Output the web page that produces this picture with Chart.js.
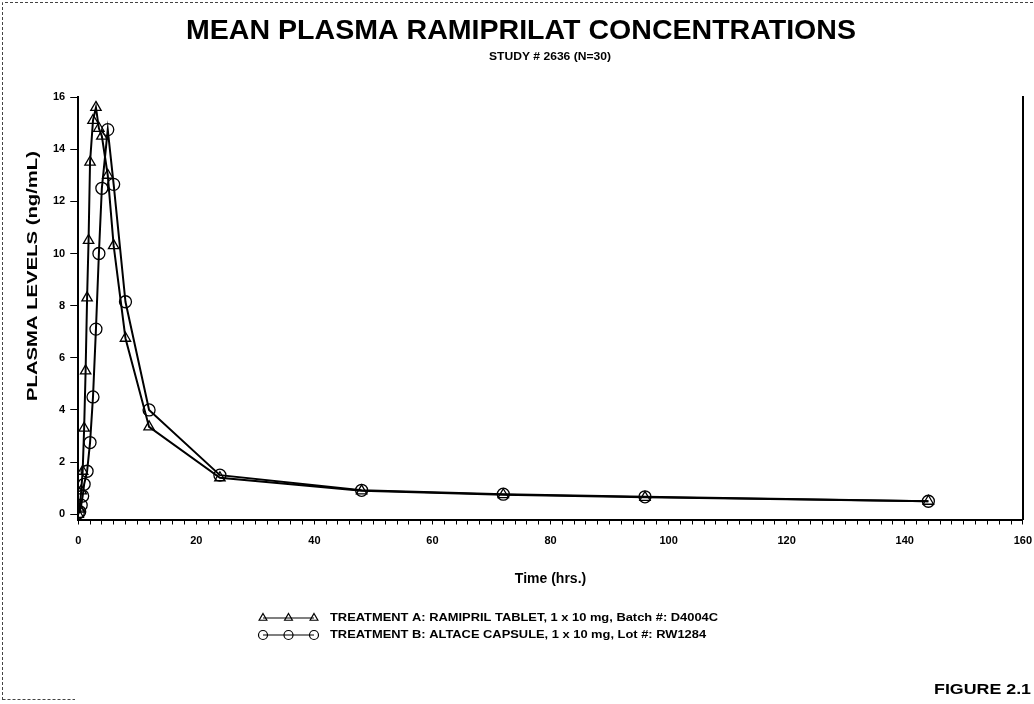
<!DOCTYPE html>
<html>
<head>
<meta charset="utf-8">
<title>Mean Plasma Ramiprilat Concentrations</title>
<script src="https://cdn.jsdelivr.net/npm/chart.js@4.4.1/dist/chart.umd.min.js"></script>
<style>
    html, body { margin: 0; padding: 0; background: #fff; }
    #wrap { width: 1034px; height: 704px; }
</style>
</head>
<body>
<div id="wrap"><canvas id="plasmaChart" width="1034" height="704"></canvas></div>
<script>
// sampling times (hrs) and mean levels (ng/mL)
const timeA = [0, 0.25, 0.5, 0.75, 1, 1.25, 1.5, 1.75, 2, 2.5, 3, 3.5, 4, 5, 6, 8, 12, 24, 48, 72, 96, 144];
const levelA = [0, 0.2, 0.9, 1.65, 3.3, 5.5, 8.3, 10.5, 13.5, 15.1, 15.6, 14.8, 14.5, 13.0, 10.3, 6.75, 3.35, 1.4, 0.9, 0.75, 0.65, 0.5];

const timeB = [0, 0.25, 0.5, 0.75, 1, 1.5, 2, 2.5, 3, 3.5, 4, 5, 6, 8, 12, 24, 48, 72, 96, 144];
const levelB = [0.05, 0.1, 0.35, 0.7, 1.15, 1.65, 2.75, 4.5, 7.1, 10.0, 12.5, 14.75, 12.65, 8.15, 4.0, 1.5, 0.92, 0.77, 0.67, 0.5];

const xTicks = [0, 20, 40, 60, 80, 100, 120, 140, 160];
const yTicks = [0, 2, 4, 6, 8, 10, 12, 14, 16];

const legendA = 'TREATMENT A: RAMIPRIL TABLET, 1 x 10 mg, Batch #: D4004C';
const legendB = 'TREATMENT B: ALTACE CAPSULE, 1 x 10 mg, Lot #: RW1284';

const FONT = "'Liberation Sans', Arial, Helvetica, sans-serif";
Chart.defaults.font.family = FONT;
Chart.defaults.color = '#000';

function toPoints(xs, ys) {
    return xs.map((x, i) => ({ x: x, y: ys[i] }));
}

// the scanned lettering is wider than Arial, so stretch text to a width
function stretchText(ctx, text, x, y, width, align) {
    const k = width / ctx.measureText(text).width;
    ctx.save();
    ctx.translate(x, y);
    ctx.scale(k, 1);
    ctx.textAlign = align;
    ctx.fillText(text, 0, 0);
    ctx.restore();
}

// titles, legend rows, figure number and the scan border
const extrasPlugin = {
    id: 'extras',
    afterDraw(chart) {
        const ctx = chart.ctx;
        ctx.save();

        // dashed page edge left by the scanner
        ctx.strokeStyle = '#444';
        ctx.lineWidth = 1;
        ctx.setLineDash([3, 2]);
        ctx.beginPath();
        ctx.moveTo(2.5, 700);
        ctx.lineTo(2.5, 2.5);
        ctx.lineTo(1034, 2.5);
        ctx.moveTo(2.5, 699.5);
        ctx.lineTo(75, 699.5);
        ctx.stroke();
        ctx.setLineDash([]);

        ctx.fillStyle = '#000';
        ctx.textBaseline = 'middle';

        ctx.font = 'bold 28px ' + FONT;
        stretchText(ctx, 'MEAN PLASMA RAMIPRILAT CONCENTRATIONS', 521, 31, 670, 'center');

        ctx.font = 'bold 11px ' + FONT;
        stretchText(ctx, 'STUDY # 2636 (N=30)', 550, 57, 122, 'center');

        ctx.save();
        ctx.translate(33, 276);
        ctx.rotate(-Math.PI / 2);
        ctx.font = 'bold 15px ' + FONT;
        stretchText(ctx, 'PLASMA LEVELS (ng/mL)', 0, 0, 250, 'center');
        ctx.restore();

        // legend: marker-line-marker sample followed by the label
        const rows = [
            { ds: chart.data.datasets[0], y: 618 },
            { ds: chart.data.datasets[1], y: 635 }
        ];
        ctx.font = 'bold 11px ' + FONT;
        const k = 388 / ctx.measureText(legendA).width;
        rows.forEach(row => {
            ctx.strokeStyle = '#000';
            ctx.lineWidth = 1.2;
            ctx.beginPath();
            ctx.moveTo(263, row.y);
            ctx.lineTo(314, row.y);
            ctx.stroke();
            ctx.fillStyle = 'rgba(0,0,0,0)';
            [263, 288.5, 314].forEach(px => {
                Chart.helpers.drawPoint(ctx, {
                    pointStyle: row.ds.pointStyle,
                    radius: 4.5,
                    borderWidth: 1.2,
                    rotation: 0
                }, px, row.y);
            });
            ctx.fillStyle = '#000';
            const w = ctx.measureText(row.ds.label).width * k;
            stretchText(ctx, row.ds.label, 330, row.y, w, 'left');
        });

        ctx.font = 'bold 14px ' + FONT;
        stretchText(ctx, 'FIGURE 2.1', 1031, 690, 97, 'right');

        ctx.restore();
    }
};

new Chart('plasmaChart', {
    type: 'line',
    data: {
        datasets: [{
            label: legendA,
            data: toPoints(timeA, levelA),
            borderColor: '#000',
            borderWidth: 2,
            pointStyle: 'triangle',
            pointRadius: 6,
            pointBorderWidth: 1.3,
            pointBorderColor: '#000',
            pointBackgroundColor: 'rgba(0,0,0,0)',
            tension: 0
        }, {
            label: legendB,
            data: toPoints(timeB, levelB),
            borderColor: '#000',
            borderWidth: 2,
            pointStyle: 'circle',
            pointRadius: 6,
            pointBorderWidth: 1.3,
            pointBorderColor: '#000',
            pointBackgroundColor: 'rgba(0,0,0,0)',
            tension: 0
        }]
    },
    options: {
        responsive: false,
        animation: false,
        layout: {
            padding: { left: 48, right: 0, top: 97, bottom: 116 }
        },
        plugins: {
            legend: { display: false },
            tooltip: { enabled: false }
        },
        scales: {
            x: {
                type: 'linear',
                min: 0,
                max: 160,
                grid: { drawOnChartArea: false, tickLength: 5, tickColor: '#000' },
                border: { color: '#000', width: 2 },
                ticks: {
                    stepSize: 2,
                    autoSkip: false,
                    maxRotation: 0,
                    // small padding keeps the "160" overhang narrow; the empty
                    // first line drops the numbers to where the scan has them
                    padding: 2,
                    font: { size: 11, weight: 'bold', lineHeight: 0.85 },
                    callback: v => xTicks.includes(v) ? ['', String(v)] : ''
                },
                title: {
                    display: true,
                    text: 'Time (hrs.)',
                    font: { size: 14, weight: 'bold' },
                    padding: { top: 24, bottom: 0 }
                }
            },
            y: {
                min: -0.2,
                max: 16,
                afterBuildTicks: scale => {
                    scale.ticks = yTicks.map(v => ({ value: v }));
                },
                grid: { drawOnChartArea: false, tickLength: 8, tickColor: '#000' },
                border: { color: '#000', width: 2 },
                ticks: {
                    padding: 5,
                    font: { size: 11, weight: 'bold' }
                }
            },
            yFrame: {
                position: 'right',
                min: -0.2,
                max: 16,
                grid: { drawOnChartArea: false, drawTicks: false },
                border: { display: true, color: '#000', width: 2 },
                ticks: { display: false }
            }
        }
    },
    plugins: [extrasPlugin]
});
</script>
</body>
</html>
